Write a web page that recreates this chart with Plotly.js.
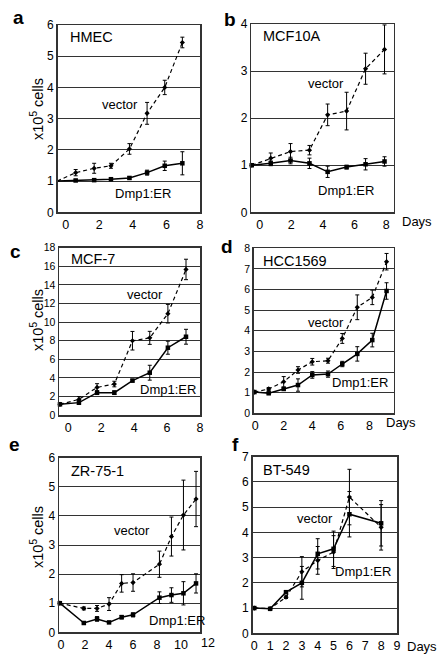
<!DOCTYPE html>
<html>
<head>
<meta charset="utf-8">
<script src="https://cdn.plot.ly/plotly-3.0.1.min.js"></script>
<style>html,body{margin:0;padding:0;background:#fff;}#chart{width:447px;height:660px;}</style>
</head>
<body>
<div id="chart"></div>
<script>
// ---- data (x = day position as drawn, y = x10^5 cells) ----
const aDays = [-0.5, 0.6, 1.7, 2.7, 3.8, 4.85, 5.9, 6.95];
const aVector = [1.0, 1.27, 1.41, 1.49, 2.03, 3.17, 4.0, 5.44];
const aVectorErr = [0, 0.1, 0.16, 0.08, 0.17, 0.35, 0.23, 0.17];
const aDmp1 = [1.0, 1.02, 1.03, 1.06, 1.1, 1.27, 1.49, 1.57];
const aDmp1Err = [0, 0.02, 0.04, 0.03, 0.04, 0.08, 0.15, 0.37];

const bDays = [-0.5, 0.7, 1.95, 3.15, 4.3, 5.5, 6.7, 7.9];
const bVector = [1.0, 1.15, 1.29, 1.32, 2.07, 2.15, 3.05, 3.46];
const bVectorErr = [0, 0.11, 0.17, 0.1, 0.23, 0.4, 0.33, 0.52];
const bDmp1 = [1.0, 1.04, 1.1, 1.04, 0.86, 0.96, 1.02, 1.08];
const bDmp1Err = [0, 0.05, 0.07, 0.11, 0.12, 0.04, 0.12, 0.1];

const cDays = [-0.5, 0.65, 1.75, 2.8, 3.9, 4.95, 6.05, 7.15];
const cVector = [1.15, 1.68, 2.97, 3.33, 7.99, 8.3, 10.9, 15.66];
const cVectorErr = [0, 0.3, 0.4, 0.3, 1.0, 0.7, 1.0, 1.1];
const cDmp1 = [1.15, 1.33, 2.4, 2.4, 3.7, 4.55, 7.24, 8.42];
const cDmp1Err = [0, 0.2, 0.2, 0.2, 0.15, 0.8, 0.7, 0.8];

const dDays = [-0.05, 0.95, 2.0, 3.0, 4.0, 5.1, 6.1, 7.15, 8.2, 9.2];
const dVector = [1.03, 1.18, 1.53, 2.1, 2.5, 2.55, 3.63, 5.14, 5.62, 7.35];
const dVectorErr = [0, 0.07, 0.25, 0.16, 0.16, 0.12, 0.24, 0.6, 0.35, 0.4];
const dDmp1 = [1.03, 0.97, 1.18, 1.37, 1.86, 1.9, 2.39, 2.88, 3.55, 5.93];
const dDmp1Err = [0, 0.04, 0.05, 0.3, 0.16, 0.15, 0.13, 0.35, 0.33, 0.4];

const eDays = [-0.1, 1.9, 3.0, 4.0, 5.05, 6.0, 8.2, 9.2, 10.2, 11.25];
const eVector = [1.0, 0.82, 0.82, 0.97, 1.68, 1.71, 2.34, 3.29, 4.03, 4.58];
const eVectorErr = [0, 0.05, 0.1, 0.22, 0.3, 0.3, 0.45, 0.67, 1.2, 0.95];
const eDmp1 = [1.0, 0.32, 0.46, 0.34, 0.52, 0.6, 1.19, 1.28, 1.34, 1.68];
const eDmp1Err = [0, 0.03, 0.08, 0.03, 0.06, 0.07, 0.2, 0.25, 0.4, 0.33];

const fDays = [0, 1, 2, 3, 4, 5, 6, 8];
const fVector = [1.0, 0.98, 1.43, 2.44, 2.89, 3.22, 5.4, 4.2];
const fVectorErr = [0, 0.03, 0.05, 0.6, 0.55, 0.65, 1.1, 0.9];
const fDmp1 = [1.0, 0.97, 1.63, 2.0, 3.15, 3.35, 4.72, 4.36];
const fDmp1Err = [0, 0.03, 0.05, 0.65, 0.6, 0.7, 0.9, 0.9];

const panelLetters = ['a', 'b', 'c', 'd', 'e', 'f'];
const cellLines = ['HMEC', 'MCF10A', 'MCF-7', 'HCC1569', 'ZR-75-1', 'BT-549'];
const seriesNames = ['vector', 'Dmp1:ER'];
const yTitle = 'x10<sup>5</sup> cells';
const daysLabel = 'Days';

// ---- layout helpers ----
const W = 447, H = 660;
const FONT = 'Arial, "Liberation Sans", sans-serif';
const px = v => v / W;
const py = v => 1 - v / H;

function trace(n, days, vals, errs, dashed) {
  return {
    x: days, y: vals, xaxis: 'x' + (n === 1 ? '' : n), yaxis: 'y' + (n === 1 ? '' : n),
    type: 'scatter', mode: 'lines+markers', name: dashed ? seriesNames[0] : seriesNames[1],
    line: {color: '#000', width: dashed ? 1.2 : 1.5, dash: dashed ? '4px,3px' : 'solid'},
    marker: {size: dashed ? 4 : 4.5, color: '#000', symbol: dashed ? 'diamond' : 'square'},
    error_y: {type: 'data', array: errs, visible: true, color: '#000', thickness: 1, width: 2},
    showlegend: false, cliponaxis: false, hoverinfo: 'x+y'
  };
}

const data = [
  trace(1, aDays, aVector, aVectorErr, true), trace(1, aDays, aDmp1, aDmp1Err, false),
  trace(2, bDays, bVector, bVectorErr, true), trace(2, bDays, bDmp1, bDmp1Err, false),
  trace(3, cDays, cVector, cVectorErr, true), trace(3, cDays, cDmp1, cDmp1Err, false),
  trace(4, dDays, dVector, dVectorErr, true), trace(4, dDays, dDmp1, dDmp1Err, false),
  trace(5, eDays, eVector, eVectorErr, true), trace(5, eDays, eDmp1, eDmp1Err, false),
  trace(6, fDays, fVector, fVectorErr, true), trace(6, fDays, fDmp1, fDmp1Err, false)
];

// panel boxes in pixels: [left, right, top, bottom], x range, x dtick, y max, y dtick, y tick font
const panels = [
  {box: [57.7, 200, 25, 212.3], xr: [-0.47, 8.0], xd: 2, ymax: 6, yd: 1, yf: 12},
  {box: [251.3, 393.7, 24, 212.3], xr: [-0.53, 8.48], xd: 2, ymax: 4, yd: 1, yf: 12},
  {box: [59, 200, 247.7, 415], xr: [-0.56, 8.0], xd: 2, ymax: 18, yd: 2, yf: 10.5},
  {box: [253.7, 393.7, 248.3, 413.3], xr: [-0.1, 9.7], xd: 2, ymax: 8, yd: 1, yf: 10.5},
  {box: [59, 200, 457.7, 632.3], xr: [-0.17, 11.58], xd: 2, ymax: 6, yd: 1, yf: 12},
  {box: [252.7, 397, 456.7, 633.3], xr: [-0.1, 9.0], xd: 1, ymax: 7, yd: 1, yf: 12}
];

const layout = {
  width: W, height: H, margin: {l: 0, r: 0, t: 0, b: 0},
  paper_bgcolor: '#fff', plot_bgcolor: '#fff', showlegend: false,
  font: {family: FONT, color: '#000'},
  annotations: []
};

panels.forEach((p, i) => {
  const n = i + 1, s = n === 1 ? '' : String(n);
  layout['xaxis' + s] = {
    domain: [px(p.box[0]), px(p.box[1])], range: p.xr, anchor: 'y' + s,
    tick0: 0, dtick: p.xd, ticks: '', showgrid: false, zeroline: false,
    showline: true, mirror: true, linecolor: '#333', linewidth: 1.5,
    tickfont: {family: FONT, size: 12.5, color: '#000'}, fixedrange: true
  };
  layout['yaxis' + s] = {
    domain: [py(p.box[3]), py(p.box[2])], range: [0, p.ymax], anchor: 'x' + s,
    tick0: 0, dtick: p.yd, ticks: '', showgrid: true, gridcolor: '#333', gridwidth: 1,
    zeroline: false, showline: true, mirror: true, linecolor: '#333', linewidth: 1.5,
    tickfont: {family: FONT, size: p.yf, color: '#000'}, fixedrange: true
  };
});

function ann(text, x, y, size, opts) {
  layout.annotations.push(Object.assign({
    text: text, xref: 'paper', yref: 'paper', x: px(x), y: py(y),
    xanchor: 'center', yanchor: 'middle', showarrow: false,
    font: {family: FONT, size: size, color: '#000'}
  }, opts || {}));
}

// panel letters
const letterPos = [[18, 18], [230, 20], [15, 251], [227, 246], [14, 445], [235, 445]];
panelLetters.forEach((l, i) => ann('<b>' + l + '</b>', letterPos[i][0], letterPos[i][1], 19));

// cell line names
const namePos = [[68, 37.5], [261, 36], [69, 259], [261, 260.5], [69, 471], [261, 470]];
cellLines.forEach((c, i) => ann(c, namePos[i][0], namePos[i][1], 14.5, {xanchor: 'left'}));

// series labels
const vecPos = [[120, 105], [326, 84], [145, 294], [326, 322.5], [132, 530], [315, 518]];
const dmpPos = [[143, 193], [346, 190.5], [168, 389], [360, 382.5], [177, 620], [363, 571.5]];
vecPos.forEach(p => ann(seriesNames[0], p[0], p[1], 13));
dmpPos.forEach(p => ann(seriesNames[1], p[0], p[1], 13));

// y titles (left column)
[[37, 109], [37, 320], [37, 537]].forEach(p => ann(yTitle, p[0], p[1], 14.5, {textangle: -90}));

// "Days" labels (right column) and the extra "12" tick label on e
[[417, 221.7], [400.5, 422.3], [422, 646]].forEach(p => ann(daysLabel, p[0], p[1], 13));
ann('12', 208.3, 643.3, 12.5);

Plotly.newPlot('chart', data, layout, {staticPlot: true, displayModeBar: false});
</script>
</body>
</html>
